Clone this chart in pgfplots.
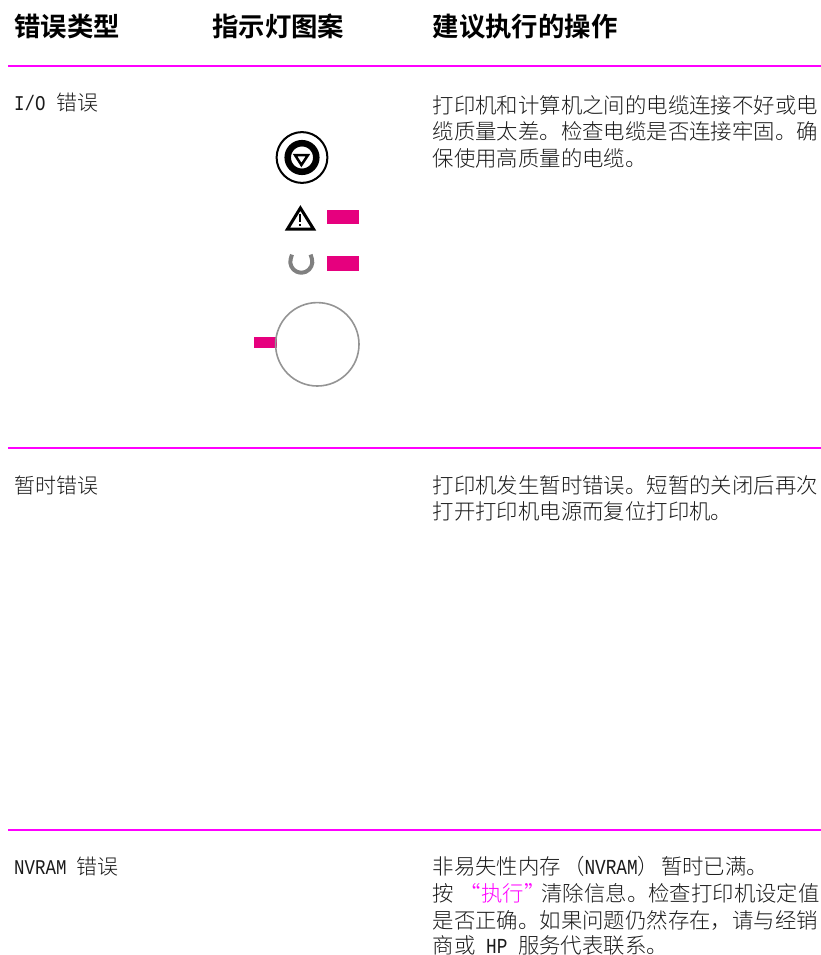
\documentclass[border=0pt]{standalone}
\usepackage{fontspec}
\usepackage{pgfplots}
\pgfplotsset{compat=1.18}
\setmainfont{Noto Sans CJK SC Light}
\newfontfamily\cjkb{Noto Sans CJK SC Bold}
\newfontfamily\monof[FakeStretch=0.83]{Liberation Mono}
\definecolor{rule}{HTML}{FF00FF}
\definecolor{led}{HTML}{E6007E}
\definecolor{txt}{HTML}{1A1A1A}
\newcommand{\hd}[1]{\fontsize{26.4}{28}\selectfont\cjkb #1}
\newcommand{\bd}[1]{\fontsize{21.4}{24}\selectfont\color{txt}#1}
\newcommand{\lf}[1]{\fontsize{21}{24}\selectfont\color{txt}#1}
\newcommand{\mn}[1]{{\monof #1}}
\begin{document}
\begin{tikzpicture}
\begin{axis}[name=ax,
  hide axis, scale only axis, width=821pt, height=955pt,
  xmin=0, xmax=821, ymin=0, ymax=955, y dir=reverse, clip=false,
  every axis plot/.append style={no markers}]
% rules
\addplot[rule, line width=2pt] coordinates {(8,66) (821,66)};
\addplot[rule, line width=2pt] coordinates {(8,448) (821,448)};
\addplot[rule, line width=2pt] coordinates {(8,830) (821,830)};
% LED bars
\addplot[fill=led, draw=none] coordinates {(326.7,210) (358.7,210) (358.7,224.3) (326.7,224.3)} --cycle;
\addplot[fill=led, draw=none] coordinates {(326.7,256.3) (358.7,256.3) (358.7,271) (326.7,271)} --cycle;
\addplot[fill=led, draw=none] coordinates {(254.3,337.3) (276.7,337.3) (276.7,347.7) (254.3,347.7)} --cycle;
% button icon
\addplot[only marks, mark=*, mark size=25.4pt, mark options={draw=black, fill opacity=0, line width=2pt}] coordinates {(302,157.5)};
\addplot[only marks, mark=*, mark size=14.3pt, mark options={draw=black, fill opacity=0, line width=6.5pt}] coordinates {(302,157.5)};
\addplot[black, line width=2.5pt, line join=miter] coordinates {(295,155) (308,155) (301.4,165)} --cycle;
% warning icon
\addplot[black, line width=3pt, line join=miter] coordinates {(287.5,229) (313.5,229) (300.4,208)} --cycle;
\addplot[black, line width=1.8pt] coordinates {(300.3,213.5) (300.3,222)};
\addplot[black, line width=1.8pt] coordinates {(300.3,224) (300.3,226)};
% ready arc
\addplot[gray, smooth, line width=4pt] coordinates {(292,254.6) (290.7,258.9) (290.3,262.7) (291.3,266.3) (293.5,269.5) (296.7,271.7) (301.3,272.7) (305.9,271.7) (309.1,269.5) (311.3,266.3) (312.3,262.7) (311.9,258.9) (310.6,254.6)};
% large circle
\addplot[only marks, mark=*, mark size=41.7pt, mark options={draw=black!42, fill opacity=0, line width=1.6pt}] coordinates {(317.3,344.3)};
% headers
\node[anchor=base west, inner sep=0pt] at (axis cs:14,37) {\hd{错误类型}};
\node[anchor=base west, inner sep=0pt] at (axis cs:212,37) {\hd{指示灯图案}};
\node[anchor=base west, inner sep=0pt] at (axis cs:432.5,37) {\hd{建议执行的操作}};
% left col
\node[anchor=base west, inner sep=0pt] at (axis cs:14,111) {\lf{\mn{I/O\ }错误}};
\node[anchor=base west, inner sep=0pt] at (axis cs:14,493) {\lf{暂时错误}};
\node[anchor=base west, inner sep=0pt] at (axis cs:14,874) {\lf{\mn{NVRAM\ }错误}};
% right col
\node[anchor=base west, inner sep=0pt] at (axis cs:432.5,113.5) {\bd{打印机和计算机之间的电缆连接不好或电}};
\node[anchor=base west, inner sep=0pt] at (axis cs:432.5,139.5) {\bd{缆质量太差。检查电缆是否连接牢固。确}};
\node[anchor=base west, inner sep=0pt] at (axis cs:432.5,166) {\bd{保使用高质量的电缆。}};
\node[anchor=base west, inner sep=0pt] at (axis cs:432.5,493) {\bd{打印机发生暂时错误。短暂的关闭后再次}};
\node[anchor=base west, inner sep=0pt] at (axis cs:432.5,519) {\bd{打开打印机电源而复位打印机。}};
\node[anchor=base west, inner sep=0pt] at (axis cs:432.5,874) {\bd{非易失性内存\hspace{2pt}（\mn{NVRAM}）\hspace{2pt}暂时已满。}};
\node[anchor=base west, inner sep=0pt] at (axis cs:432.5,901) {\bd{按 \hspace{1pt}{\color{rule}“执行”}\hspace{-4pt}清除信息。检查打印机设定值}};
\node[anchor=base west, inner sep=0pt] at (axis cs:432.5,928) {\bd{是否正确。如果问题仍然存在，请与经销}};
\node[anchor=base west, inner sep=0pt] at (axis cs:432.5,953) {\bd{商或\mn{\ HP\ }服务代表联系。}};
\end{axis}
\pgfresetboundingbox
\path[use as bounding box] (ax.south west) rectangle (ax.north east);
\end{tikzpicture}
\end{document}
